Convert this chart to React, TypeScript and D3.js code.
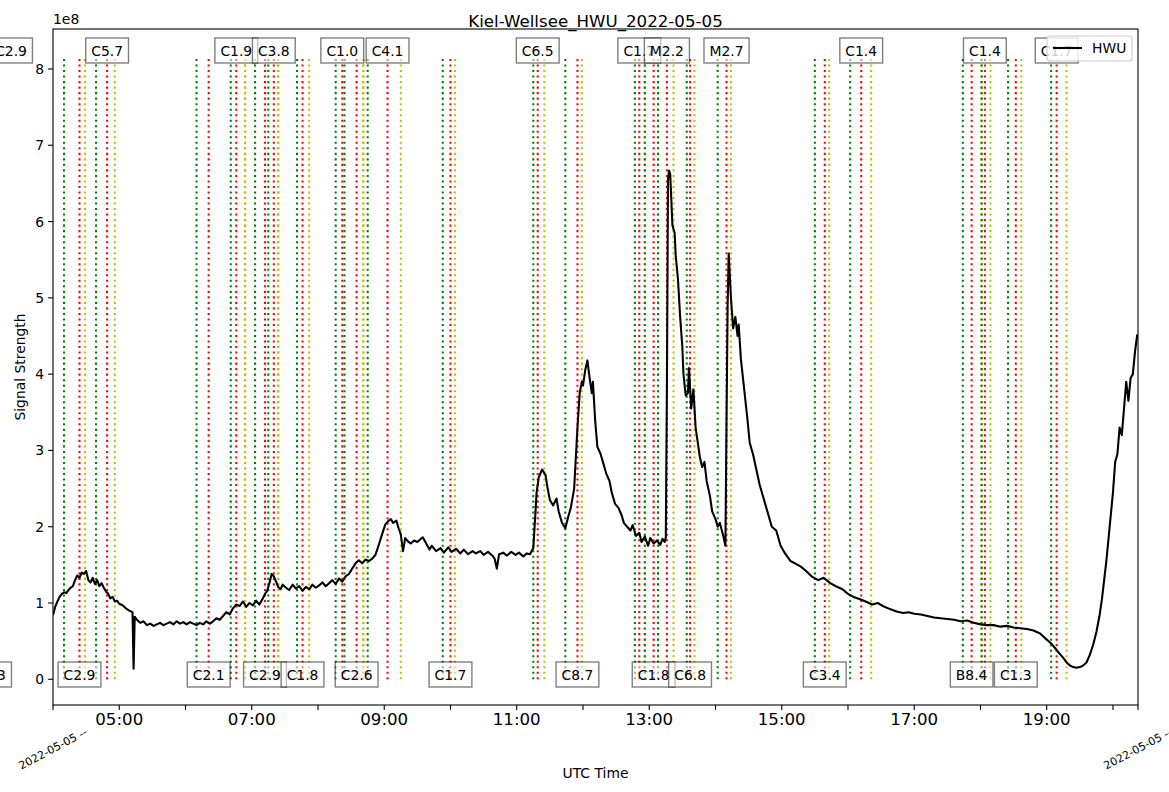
import React, { useEffect, useRef } from 'react';
import * as d3 from 'd3';

const DAY = '2022-05-05';
const TITLE = 'Kiel-Wellsee_HWU_2022-05-05';

// signal samples, values in units of 1e8
const signalTimes = [
  '04:00', '04:02', '04:04', '04:06', '04:08', '04:10', '04:12', '04:14', '04:16', '04:18',
  '04:20', '04:22', '04:24', '04:26', '04:28', '04:30', '04:32', '04:34', '04:36', '04:38',
  '04:40', '04:42', '04:44', '04:46', '04:48', '04:50', '04:52', '04:54', '04:56', '04:58',
  '05:00', '05:03', '05:06', '05:09', '05:12', '05:13', '05:14', '05:16', '05:19', '05:22',
  '05:25', '05:28', '05:31', '05:34', '05:37', '05:40', '05:43', '05:46', '05:49', '05:52',
  '05:55', '05:58', '06:01', '06:04', '06:07', '06:10', '06:13', '06:16', '06:19', '06:22',
  '06:25', '06:28', '06:31', '06:34', '06:37', '06:40', '06:43', '06:46', '06:49', '06:52',
  '06:55', '06:58', '07:01', '07:04', '07:07', '07:10', '07:12', '07:14', '07:16', '07:18',
  '07:20', '07:22', '07:24', '07:26', '07:28', '07:31', '07:34', '07:37', '07:40', '07:43',
  '07:46', '07:49', '07:52', '07:55', '07:58', '08:01', '08:04', '08:07', '08:10', '08:13',
  '08:16', '08:19', '08:22', '08:25', '08:28', '08:31', '08:34', '08:37', '08:40', '08:43',
  '08:46', '08:49', '08:52', '08:55', '08:58', '09:01', '09:04', '09:06', '09:08', '09:11',
  '09:13', '09:15', '09:17', '09:19', '09:22', '09:24', '09:27', '09:30', '09:33', '09:35',
  '09:38', '09:41', '09:43', '09:47', '09:51', '09:54', '09:58', '10:01', '10:05', '10:09',
  '10:12', '10:16', '10:20', '10:23', '10:27', '10:30', '10:34', '10:38', '10:40', '10:42',
  '10:44', '10:48', '10:51', '10:55', '10:59', '11:02', '11:06', '11:09', '11:12', '11:15',
  '11:17', '11:18', '11:20', '11:23', '11:26', '11:28', '11:30', '11:33', '11:36', '11:38',
  '11:41', '11:44', '11:47', '11:49', '11:52', '11:55', '11:57', '11:59', '12:00', '12:02',
  '12:04', '12:06', '12:08', '12:09', '12:11', '12:13', '12:16', '12:18', '12:21', '12:24',
  '12:26', '12:29', '12:32', '12:35', '12:37', '12:40', '12:43', '12:45', '12:48', '12:51',
  '12:53', '12:56', '12:59', '13:01', '13:04', '13:07', '13:10', '13:12', '13:14', '13:15',
  '13:16', '13:17', '13:18', '13:19', '13:21', '13:23', '13:24', '13:26', '13:28', '13:30',
  '13:31', '13:33', '13:35', '13:36', '13:38', '13:40', '13:42', '13:46', '13:48', '13:50',
  '13:52', '13:55', '13:57', '14:00', '14:02', '14:04', '14:07', '14:09', '14:10', '14:11',
  '14:12', '14:14', '14:16', '14:18', '14:20', '14:21', '14:23', '14:26', '14:29', '14:31',
  '14:34', '14:37', '14:40', '14:44', '14:48', '14:51', '14:55', '14:59', '15:03', '15:08',
  '15:12', '15:17', '15:22', '15:27', '15:33', '15:38', '15:44', '15:49', '15:55', '16:00',
  '16:05', '16:11', '16:16', '16:22', '16:27', '16:33', '16:38', '16:44', '16:50', '16:55',
  '17:00', '17:06', '17:12', '17:18', '17:24', '17:30', '17:36', '17:42', '17:48', '17:54',
  '18:00', '18:06', '18:12', '18:18', '18:24', '18:30', '18:36', '18:42', '18:48', '18:54',
  '19:00', '19:04', '19:08', '19:12', '19:15', '19:18', '19:21', '19:24', '19:27', '19:30',
  '19:33', '19:36', '19:39', '19:42', '19:45', '19:48', '19:50', '19:52', '19:54', '19:56',
  '19:58', '20:00', '20:02', '20:04', '20:06', '20:08', '20:10', '20:12', '20:14', '20:16',
  '20:18', '20:20', '20:22',
];

const signalValues = [
  0.84, 0.95, 1.02, 1.08, 1.12, 1.14, 1.13, 1.17, 1.20, 1.22,
  1.30, 1.36, 1.33, 1.40, 1.38, 1.42, 1.30, 1.27, 1.33, 1.25,
  1.30, 1.22, 1.26, 1.20, 1.15, 1.12, 1.06, 1.08, 1.02, 1.03,
  0.99, 0.97, 0.93, 0.90, 0.88, 0.14, 0.82, 0.78, 0.74, 0.76,
  0.71, 0.73, 0.70, 0.72, 0.74, 0.71, 0.73, 0.75, 0.72, 0.76,
  0.73, 0.75, 0.72, 0.75, 0.73, 0.71, 0.74, 0.72, 0.76, 0.73,
  0.76, 0.80, 0.78, 0.83, 0.88, 0.85, 0.93, 0.98, 0.96, 1.02,
  0.95, 1.00, 0.97, 1.03, 0.98, 1.06, 1.12, 1.16, 1.26, 1.38,
  1.35, 1.28, 1.21, 1.18, 1.24, 1.20, 1.17, 1.24, 1.19, 1.22,
  1.16, 1.21, 1.18, 1.24, 1.20, 1.23, 1.27, 1.22, 1.26, 1.30,
  1.25, 1.32, 1.28, 1.35, 1.38, 1.45, 1.52, 1.56, 1.52, 1.57,
  1.55, 1.58, 1.63, 1.76, 1.90, 2.03, 2.08, 2.10, 2.05, 2.08,
  1.98, 1.90, 1.68, 1.85, 1.80, 1.78, 1.82, 1.80, 1.84, 1.86,
  1.78, 1.70, 1.75, 1.68, 1.72, 1.66, 1.73, 1.67, 1.71, 1.65,
  1.70, 1.64, 1.68, 1.65, 1.68, 1.63, 1.67, 1.62, 1.58, 1.45,
  1.64, 1.66, 1.62, 1.67, 1.63, 1.66, 1.61, 1.65, 1.64, 1.72,
  2.20, 2.45, 2.65, 2.75, 2.68, 2.50, 2.35, 2.28, 2.37, 2.20,
  2.05, 1.98, 2.15, 2.25, 2.50, 3.30, 3.75, 3.90, 3.85, 4.05,
  4.18, 3.95, 3.75, 3.90, 3.40, 3.05, 2.95, 2.85, 2.70, 2.60,
  2.45, 2.30, 2.25, 2.15, 2.05, 2.00, 1.95, 2.02, 1.88, 1.92,
  1.80, 1.87, 1.75, 1.85, 1.78, 1.82, 1.76, 1.84, 1.80, 1.86,
  3.80, 6.55, 6.67, 6.62, 5.95, 5.85, 5.55, 5.25, 4.75, 4.35,
  4.00, 3.72, 3.75, 4.08, 3.55, 3.80, 3.30, 2.90, 2.78, 2.85,
  2.60, 2.40, 2.20, 2.10, 2.00, 2.05, 1.88, 1.75, 3.40, 4.90,
  5.58, 5.00, 4.60, 4.75, 4.50, 4.65, 4.20, 3.80, 3.40, 3.10,
  2.95, 2.75, 2.55, 2.35, 2.15, 2.00, 1.95, 1.75, 1.65, 1.55,
  1.52, 1.48, 1.42, 1.35, 1.30, 1.33, 1.26, 1.22, 1.18, 1.12,
  1.08, 1.05, 1.02, 0.98, 1.00, 0.95, 0.92, 0.89, 0.87, 0.88,
  0.86, 0.85, 0.83, 0.81, 0.80, 0.79, 0.78, 0.76, 0.77, 0.74,
  0.72, 0.71, 0.71, 0.69, 0.70, 0.68, 0.67, 0.66, 0.64, 0.60,
  0.52, 0.47, 0.40, 0.33, 0.28, 0.22, 0.18, 0.16, 0.15, 0.16,
  0.18, 0.22, 0.32, 0.45, 0.62, 0.85, 1.05, 1.30, 1.55, 1.85,
  2.15, 2.45, 2.85, 2.95, 3.30, 3.20, 3.55, 3.90, 3.65, 3.95,
  4.00, 4.30, 4.52,
];

// flare events: class, start (green), peak (red), end (yellow)
const flareClasses = [
  'C1.3', 'C2.9', 'C2.9', 'C5.7', 'C2.1', 'C1.9', 'C2.9', 'C3.8', 'C1.8', 'C1.0',
  'C2.6', 'C4.1', 'C1.7', 'C6.5', 'C8.7', 'C1.7', 'C1.8', 'M2.2', 'C6.8', 'M2.7',
  'C3.4', 'C1.4', 'B8.4', 'C1.4', 'C1.3', 'C1.7',
];
const flareStarts = [
  '02:55', '03:15', '04:10', '04:39', '06:10', '06:41', '07:03', '07:15', '07:41', '08:16',
  '08:24', '08:45', '09:53', '11:15', '11:44', '12:47', '12:56', '13:08', '13:34', '14:02',
  '15:30', '16:02', '17:44', '18:01', '18:25', '19:04',
];
const flarePeaks = [
  '03:03', '03:22', '04:24', '04:49', '06:21', '06:46', '07:12', '07:20', '07:46', '08:22',
  '08:35', '09:03', '10:00', '11:19', '11:55', '12:51', '13:04', '13:16', '13:37', '14:10',
  '15:39', '16:12', '17:52', '18:04', '18:32', '19:09',
];
const flareEnds = [
  '03:10', '03:30', '04:29', '04:56', '06:54', '06:54', '07:24', '07:24', '07:52', '08:41',
  '08:41', '09:15', '10:04', '11:25', '11:59', '12:56', '13:08', '13:22', '13:41', '14:14',
  '15:43', '16:21', '18:01', '18:09', '18:37', '19:18',
];

const yTicks = [0, 1, 2, 3, 4, 5, 6, 7, 8];
const xLabelHours = ['05:00', '07:00', '09:00', '11:00', '13:00', '15:00', '17:00', '19:00'];
const edgeLabel = `${DAY} --`;

const FONT = '"DejaVu Sans", sans-serif';

const App: React.FC = () => {
  const svgRef = useRef<SVGSVGElement>(null);

  useEffect(() => {
    const svg = d3.select(svgRef.current);
    svg.selectAll('*').remove();

    const W = 1169;
    const H = 792;
    const left = 53, right = 1138, top = 29, bottom = 705;

    const parse = d3.utcParse('%Y-%m-%d %H:%M:%S');
    const t = (s: string) => parse(`${DAY} ${s.length === 5 ? s + ':00' : s}`) as Date;

    const x = d3.scaleUtc().domain([t('04:00'), t('20:22:40')]).range([left, right]);
    const y = d3.scaleLinear().domain([-0.337, 8.524]).range([bottom, top]);

    svg.attr('width', W).attr('height', H).style('font-family', FONT);

    svg.append('rect').attr('width', W).attr('height', H).attr('fill', '#fff');

    svg.append('defs').append('clipPath').attr('id', 'plot-clip')
      .append('rect')
      .attr('x', left).attr('y', top)
      .attr('width', right - left).attr('height', bottom - top);

    const plot = svg.append('g').attr('clip-path', 'url(#plot-clip)');

    // flare marker lines
    const lineTop = 8.17;
    flareClasses.forEach((_, i) => {
      const marks: [string, string][] = [
        [flareStarts[i], '#008000'],
        [flarePeaks[i], '#ff0000'],
        [flareEnds[i], '#bfbf00'],
      ];
      marks.forEach(([time, color]) => {
        const px = x(t(time));
        plot.append('line')
          .attr('x1', px).attr('x2', px)
          .attr('y1', y(0)).attr('y2', y(lineTop))
          .attr('stroke', color)
          .attr('stroke-width', 2.08)
          .attr('stroke-dasharray', '2.08,3.44');
      });
    });

    // flare class labels, alternating bottom / top
    const labels = svg.append('g');
    flareClasses.forEach((cls, i) => {
      const px = x(t(flarePeaks[i]));
      const py = i % 2 === 0 ? 674.5 : 50.5;
      const g = labels.append('g');
      const box = g.append('rect');
      const txt = g.append('text')
        .attr('x', px).attr('y', py)
        .attr('text-anchor', 'middle')
        .attr('dominant-baseline', 'central')
        .style('font-size', '13.9px')
        .text(cls);
      const w = (txt.node() as SVGTextElement).getComputedTextLength();
      const bw = w + 11;
      box.attr('x', px - bw / 2).attr('y', py - 12.5)
        .attr('width', bw).attr('height', 25)
        .attr('fill', 'rgba(255,255,255,0.5)')
        .attr('stroke', 'rgba(0,0,0,0.5)')
        .attr('stroke-width', 1.39);
    });

    // signal line
    const pts = signalTimes.map((s, i) => ({ time: t(s), value: signalValues[i] }));
    const line = d3.line<{ time: Date; value: number }>()
      .x(d => x(d.time))
      .y(d => y(d.value));
    plot.append('path')
      .datum(pts)
      .attr('d', line)
      .attr('fill', 'none')
      .attr('stroke', '#000')
      .attr('stroke-width', 2.08)
      .attr('stroke-linejoin', 'round');

    // spines
    svg.append('rect')
      .attr('x', left).attr('y', top)
      .attr('width', right - left).attr('height', bottom - top)
      .attr('fill', 'none').attr('stroke', '#000').attr('stroke-width', 1.1);

    // x axis ticks
    const hours = d3.utcHour.range(t('05:00'), t('20:01'));
    const xAxis = svg.append('g');
    [...hours, t('04:00'), t('20:22:40')].forEach(d => {
      const px = x(d);
      xAxis.append('line')
        .attr('x1', px).attr('x2', px)
        .attr('y1', bottom).attr('y2', bottom + 4.9)
        .attr('stroke', '#000').attr('stroke-width', 1.1);
    });
    xLabelHours.forEach(h => {
      xAxis.append('text')
        .attr('x', x(t(h))).attr('y', bottom + 20)
        .attr('text-anchor', 'middle')
        .style('font-size', '16.67px')
        .text(h);
    });
    [t('04:00'), t('20:22:40')].forEach(d => {
      xAxis.append('text')
        .attr('transform', `translate(${x(d)},${bottom + 44}) rotate(-28)`)
        .attr('text-anchor', 'middle')
        .attr('dominant-baseline', 'central')
        .style('font-size', '11px')
        .text(edgeLabel);
    });

    // y axis
    const yAxis = svg.append('g');
    yTicks.forEach(v => {
      yAxis.append('line')
        .attr('x1', left - 4.9).attr('x2', left)
        .attr('y1', y(v)).attr('y2', y(v))
        .attr('stroke', '#000').attr('stroke-width', 1.1);
      yAxis.append('text')
        .attr('x', left - 9).attr('y', y(v))
        .attr('text-anchor', 'end')
        .attr('dominant-baseline', 'central')
        .style('font-size', '13.9px')
        .text(v);
    });
    svg.append('text')
      .attr('x', left).attr('y', top - 5)
      .style('font-size', '13.9px')
      .text('1e8');

    // titles
    svg.append('text')
      .attr('x', (left + right) / 2).attr('y', top - 2)
      .attr('text-anchor', 'middle')
      .style('font-size', '16.67px')
      .text(TITLE);
    svg.append('text')
      .attr('x', (left + right) / 2).attr('y', 778)
      .attr('text-anchor', 'middle')
      .style('font-size', '13.9px')
      .text('UTC Time');
    svg.append('text')
      .attr('transform', `translate(25,${(top + bottom) / 2}) rotate(-90)`)
      .attr('text-anchor', 'middle')
      .style('font-size', '13.9px')
      .text('Signal Strength');

    // legend
    const legend = svg.append('g');
    legend.append('rect')
      .attr('x', 1047).attr('y', 36)
      .attr('width', 85).attr('height', 25)
      .attr('rx', 3)
      .attr('fill', 'rgba(255,255,255,0.8)')
      .attr('stroke', '#cccccc')
      .attr('stroke-width', 1.1);
    legend.append('line')
      .attr('x1', 1053).attr('x2', 1082)
      .attr('y1', 48).attr('y2', 48)
      .attr('stroke', '#000').attr('stroke-width', 2.08);
    legend.append('text')
      .attr('x', 1092).attr('y', 48)
      .attr('dominant-baseline', 'central')
      .style('font-size', '13.9px')
      .text('HWU');
  }, []);

  return (
    <svg
      ref={svgRef}
      style={{ position: 'absolute', left: 0, top: 0, display: 'block' }}
    />
  );
};

export default App;
